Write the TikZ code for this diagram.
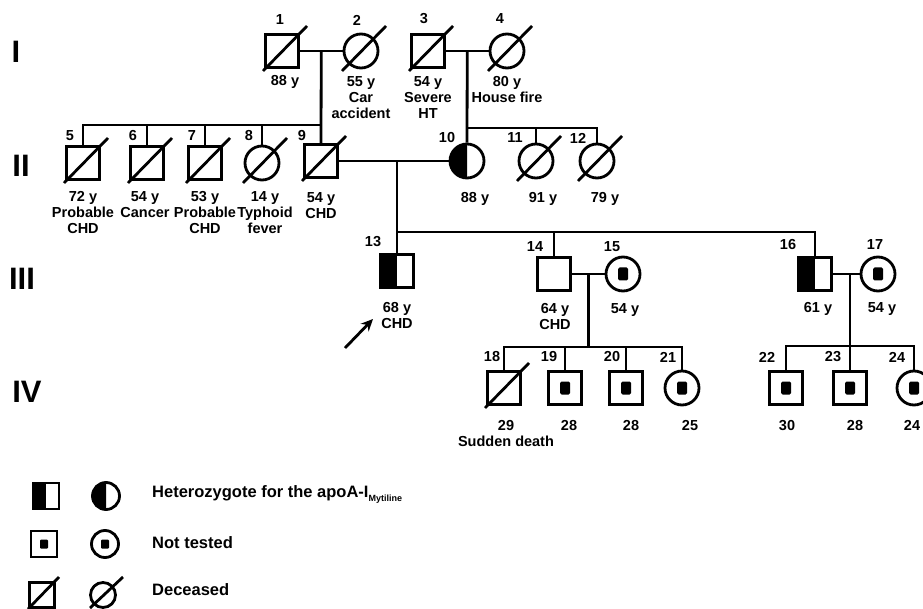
\documentclass[tikz,border=0pt]{standalone}
\usepackage{fontspec}
\setmainfont{Liberation Sans}
\usetikzlibrary{calc,arrows.meta}
\tikzset{
  lw/.style={line width=2.8pt},
  male/.style={draw,lw,rectangle,minimum size=33pt,inner sep=0pt},
  female/.style={draw,lw,circle,minimum size=34pt,inner sep=0pt},
  num/.style={font=\fontsize{14.5}{16}\selectfont\bfseries,inner sep=0pt},
  info/.style={font=\fontsize{14.5}{16}\selectfont\bfseries,align=center,anchor=north,inner sep=0pt},
  gen/.style={font=\fontsize{31}{32}\selectfont\bfseries,inner sep=0pt},
  legtext/.style={font=\fontsize{16.5}{18}\selectfont\bfseries,anchor=west,inner sep=0pt},
}
% symbol decorations
\newcommand{\dead}[1]{\draw[lw] ($(#1)+(-19,20)$) -- ($(#1)+(25,-25)$);}
\newcommand{\nottested}[1]{\fill[rounded corners=1.5pt] ($(#1)+(-5,-6.5)$) rectangle ($(#1)+(5,6.5)$);}
\newcommand{\hetsq}[1]{\fill (#1.north west) rectangle (#1.south);}
\newcommand{\hetcirc}[2]{\begin{scope}\clip ($(#1)+(-25,-25)$) rectangle ($(#1)+(0,25)$); \fill (#1) circle[radius=#2]; \end{scope}}
\begin{document}
\begin{tikzpicture}[x=1pt,y=-1pt]
\useasboundingbox (0,0) rectangle (923,609);
% generations
\node[gen] (gI) at (16,52) {I};
\node[gen] (gII) at (21,166) {II};
\node[gen] (gIII) at (22,279) {III};
\node[gen] (gIV) at (27,392) {IV};
% generation I
\node[male] (p1) at (282,51) {}; \dead{p1}
\node[female] (p2) at (361,51) {}; \dead{p2}
\node[male] (p3) at (428,51) {}; \dead{p3}
\node[female] (p4) at (507,51) {}; \dead{p4}
\node[num] (n1) at (280,20) {1};
\node[num] (n2) at (357,20) {2};
\node[num] (n3) at (424,19) {3};
\node[num] (n4) at (500,19) {4};
\node[info] (i1) at (285,75) {88 y};
\node[info] (i2) at (361,76) {55 y\\Car\\accident};
\node[info] (i3) at (428,76) {54 y\\Severe\\HT};
\node[info] (i4) at (507,76) {80 y\\House fire};
\draw[lw] (p1.east) -- (p2.west);
\draw[lw] (p3.east) -- (p4.west);
\coordinate (m12) at ($(p1.east)!0.5!(p2.west)$);
\coordinate (m34) at ($(p3.east)!0.5!(p4.west)$);
% generation II
\node[male] (p5) at (83,163) {}; \dead{p5}
\node[male] (p6) at (147,163) {}; \dead{p6}
\node[male] (p7) at (205,163) {}; \dead{p7}
\node[female] (p8) at (262,163) {}; \dead{p8}
\node[male] (p9) at (321,161) {}; \dead{p9}
\node[female] (p10) at (467,161) {}; \hetcirc{p10}{17}
\node[female] (p11) at (536,161) {}; \dead{p11}
\node[female] (p12) at (597,161) {}; \dead{p12}
\node[num] (n5) at (70,136) {5};
\node[num] (n6) at (133,136) {6};
\node[num] (n7) at (192,136) {7};
\node[num] (n8) at (249,136) {8};
\node[num] (n9) at (302,136) {9};
\node[num] (n10) at (447,138) {10};
\node[num] (n11) at (515,138) {11};
\node[num] (n12) at (578,138) {12};
\node[info] (i5) at (83,191) {72 y\\Probable\\CHD};
\node[info] (i6) at (145,191) {54 y\\Cancer};
\node[info] (i7) at (205,191) {53 y\\Probable\\CHD};
\node[info] (i8) at (265,191) {14 y\\Typhoid\\fever};
\node[info] (i9) at (321,192) {54 y\\CHD};
\node[info] (i10) at (475,192) {88 y};
\node[info] (i11) at (543,192) {91 y};
\node[info] (i12) at (605,192) {79 y};
\coordinate (s2a) at (m12 |- 0,125);
\coordinate (s2b) at (m34 |- 0,128);
\draw[lw] (m12) -- (p9.north);
\draw[lw] (p5.north) -- (p5.north |- s2a) -- (s2a);
\foreach \k in {p6,p7,p8} \draw[lw] (\k.north) -- (\k.north |- s2a);
\draw[lw] (m34) -- (p10.north);
\draw[lw] (s2b) -- (p12.north |- s2b) -- (p12.north);
\draw[lw] (p11.north) -- (p11.north |- s2b);
\draw[lw] (p9.east) -- (p10.west);
\coordinate (m910) at (397,161);
% generation III
\node[male] (p13) at (397,271) {}; \hetsq{p13}
\node[male] (p14) at (554,274) {};
\node[female] (p15) at (623,274) {}; \nottested{p15}
\node[male] (p16) at (815,274) {}; \hetsq{p16}
\node[female] (p17) at (878,274) {}; \nottested{p17}
\node[num] (n13) at (373,242) {13};
\node[num] (n14) at (535,247) {14};
\node[num] (n15) at (612,247) {15};
\node[num] (n16) at (788,245) {16};
\node[num] (n17) at (875,245) {17};
\node[info] (i13) at (397,302) {68 y\\CHD};
\node[info] (i14) at (555,303) {64 y\\CHD};
\node[info] (i15) at (625,303) {54 y};
\node[info] (i16) at (818,302) {61 y};
\node[info] (i17) at (882,302) {54 y};
\coordinate (s3) at (m910 |- 0,232);
\draw[lw] (m910) -- (p13.north);
\draw[lw] (s3) -- (p16.north |- s3) -- (p16.north);
\draw[lw] (p14.north) -- (p14.north |- s3);
\draw[lw] (p14.east) -- (p15.west);
\draw[lw] (p16.east) -- (p17.west);
\coordinate (m1415) at ($(p14.east)!0.5!(p15.west)$);
\coordinate (m1617) at (850,274);
% proband
\coordinate (pa) at (345,348);
\coordinate (pb) at (373,319);
\draw[lw,-{Stealth[length=12pt,width=11pt]}] (pa) -- (pb);
% generation IV
\node[male] (p18) at (504,388) {}; \dead{p18}
\node[male] (p19) at (565,388) {}; \nottested{p19}
\node[male] (p20) at (626,388) {}; \nottested{p20}
\node[female] (p21) at (682,388) {}; \nottested{p21}
\node[male] (p22) at (786,388) {}; \nottested{p22}
\node[male] (p23) at (850,388) {}; \nottested{p23}
\node[female] (p24) at (914,388) {}; \nottested{p24}
\node[num] (n18) at (492,357) {18};
\node[num] (n19) at (549,357) {19};
\node[num] (n20) at (612,357) {20};
\node[num] (n21) at (668,357) {21};
\node[num] (n22) at (767,357) {22};
\node[num] (n23) at (833,357) {23};
\node[num] (n24) at (897,357) {24};
\node[info] (i18) at (506,420) {29\\Sudden death};
\node[info] (i19) at (569,420) {28};
\node[info] (i20) at (631,420) {28};
\node[info] (i21) at (690,420) {25};
\node[info] (i22) at (787,420) {30};
\node[info] (i23) at (855,420) {28};
\node[info] (i24) at (912,420) {24};
\coordinate (s4a) at (m1415 |- 0,347);
\coordinate (s4b) at (m1617 |- 0,346);
\draw[lw] (m1415) -- (s4a);
\draw[lw] (p18.north) -- (p18.north |- s4a) -- (p21.north |- s4a) -- (p21.north);
\foreach \k in {p19,p20} \draw[lw] (\k.north) -- (\k.north |- s4a);
\draw[lw] (m1617) -- (p23.north);
\draw[lw] (p22.north) -- (p22.north |- s4b) -- (p24.north |- s4b) -- (p24.north);
% legend
\node[male,minimum size=26pt] (lsq1) at (46,496) {}; \hetsq{lsq1}
\node[female,minimum size=27pt] (lc1) at (106,496) {}; \hetcirc{lc1}{13.5}
\node[male,minimum size=26pt] (lsq2) at (44,544) {};
\fill[rounded corners=1pt] ($(lsq2)+(-4,-4.5)$) rectangle ($(lsq2)+(4,4.5)$);
\node[female,minimum size=27pt] (lc2) at (105,544) {};
\fill[rounded corners=1pt] ($(lc2)+(-4,-4.5)$) rectangle ($(lc2)+(4,4.5)$);
\node[male,minimum size=25pt] (lsq3) at (42,595) {};
\draw[lw] ($(lsq3)+(-14,14)$) -- ($(lsq3)+(17,-18)$);
\node[female,minimum size=25pt] (lc3) at (103,595) {};
\draw[lw] ($(lc3)+(-13,13)$) -- ($(lc3)+(20,-18)$);
\node[legtext] (t1) at (152,494) {Heterozygote for the apoA-I\raisebox{-4pt}{\fontsize{9}{9}\selectfont Mytiline}};
\node[legtext] (t2) at (152,543) {Not tested};
\node[legtext] (t3) at (152,590) {Deceased};
\end{tikzpicture}
\end{document}
